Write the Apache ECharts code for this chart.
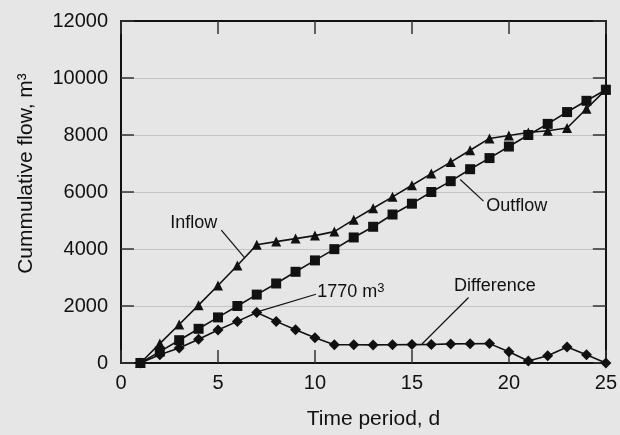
<!DOCTYPE html>
<html>
<head>
<meta charset="utf-8">
<script src="https://cdn.jsdelivr.net/npm/echarts@6/dist/echarts.min.js"></script>
<style>
  html, body { margin: 0; padding: 0; background: #e6e6e6; }
  #chart { width: 620px; height: 435px; }
</style>
</head>
<body>
<div id="chart"></div>
<script>
// days 1..25
var days = [1, 2, 3, 4, 5, 6, 7, 8, 9, 10, 11, 12, 13, 14, 15, 16, 17, 18, 19, 20, 21, 22, 23, 24, 25];
// cumulative inflow, m3
var inflow = [0, 680, 1350, 2030, 2720, 3420, 4150, 4260, 4365, 4470, 4610, 5030, 5430, 5830, 6235, 6645, 7050, 7465, 7880, 7985, 8085, 8150, 8245, 8920, 9590];
// cumulative outflow, m3
var outflow = [0, 400, 800, 1200, 1600, 2000, 2400, 2790, 3200, 3600, 3995, 4405, 4780, 5210, 5590, 6000, 6380, 6800, 7190, 7595, 8000, 8390, 8805, 9200, 9590];
// difference, m3
var difference = [0, 290, 525, 830, 1155, 1460, 1770, 1460, 1165, 885, 640, 640, 635, 640, 645, 650, 670, 675, 680, 395, 70, 255, 560, 290, 0];

function pairs(ys) {
  return days.map(function (d, i) { return [d, ys[i]]; });
}

var chart = echarts.init(document.getElementById('chart'));

var fontFam = '"Liberation Sans", Arial, sans-serif';
var black = '#111';

function seriesOf(name, ys, symbol, size) {
  return {
    name: name,
    type: 'line',
    data: pairs(ys),
    symbol: symbol,
    symbolSize: size,
    showAllSymbol: true,
    lineStyle: { color: black, width: 1.6 },
    itemStyle: { color: black },
    z: 3
  };
}

var frameLine = { show: true, onZero: false, lineStyle: { color: black, width: 2 } };
var innerTick = { show: true, inside: true, length: 13, lineStyle: { color: '#333', width: 1.5 } };
var leaderStyle = { color: black, width: 1.2, type: 'solid' };

var option = {
  backgroundColor: '#e6e6e6',
  animation: false,
  textStyle: { fontFamily: fontFam },
  grid: { left: 121, right: 12, top: 21, bottom: 71 },
  xAxis: [{
    type: 'value',
    min: 0, max: 25, interval: 5,
    name: 'Time period, d',
    nameLocation: 'middle',
    nameGap: 46,
    nameTextStyle: { fontSize: 21, color: black, fontFamily: fontFam, padding: [0, 0, 0, 20] },
    axisLine: frameLine,
    axisTick: innerTick,
    axisLabel: { fontSize: 20, color: black, margin: 10 },
    splitLine: { show: false }
  }, {
    type: 'value',
    position: 'top',
    min: 0, max: 25, interval: 5,
    axisLine: frameLine,
    axisTick: innerTick,
    axisLabel: { show: false },
    splitLine: { show: false }
  }],
  yAxis: [{
    type: 'value',
    min: 0, max: 12000, interval: 2000,
    name: 'Cummulative flow, m³',
    nameLocation: 'middle',
    nameGap: 84,
    nameTextStyle: { fontSize: 21, color: black, fontFamily: fontFam, padding: [0, 0, 0, 37] },
    axisLine: frameLine,
    axisTick: innerTick,
    axisLabel: { fontSize: 20, color: black, margin: 13, formatter: function (v) { return String(v); } },
    splitLine: { show: true, lineStyle: { color: '#c4c4c4', width: 1.2 } }
  }, {
    type: 'value',
    position: 'right',
    min: 0, max: 12000, interval: 2000,
    axisLine: frameLine,
    axisTick: innerTick,
    axisLabel: { show: false },
    splitLine: { show: false }
  }],
  series: [
    seriesOf('Difference', difference, 'diamond', 11),
    seriesOf('Outflow', outflow, 'rect', 10),
    seriesOf('Inflow', inflow, 'triangle', 10),
    {
      name: 'annotations',
      type: 'line',
      data: [],
      silent: true,
      markLine: {
        silent: true,
        symbol: 'none',
        label: { show: false },
        lineStyle: leaderStyle,
        animation: false,
        data: [
          [{ coord: [5.17, 4664] }, { coord: [6.37, 3698] }],
          [{ coord: [10.05, 2414] }, { coord: [6.98, 1785] }],
          [{ coord: [17.49, 6438] }, { coord: [18.69, 5679] }],
          [{ coord: [17.92, 2299] }, { coord: [15.52, 665] }]
        ]
      },
      markPoint: {
        silent: true,
        symbol: 'circle',
        symbolSize: 0,
        label: {
          show: true,
          color: black,
          fontSize: 18,
          fontFamily: fontFam,
          position: 'inside',
          rich: {
            sup: { fontSize: 13, verticalAlign: 'top', padding: [0, 0, 8, 0], color: black }
          }
        },
        data: [
          { coord: [3.75, 4900], label: { formatter: 'Inflow' } },
          { coord: [11.85, 2480], label: { formatter: '1770 m{sup|3}' } },
          { coord: [20.4, 5500], label: { formatter: 'Outflow' } },
          { coord: [19.28, 2700], label: { formatter: 'Difference' } }
        ]
      }
    }
  ]
};

chart.setOption(option);
</script>
</body>
</html>
